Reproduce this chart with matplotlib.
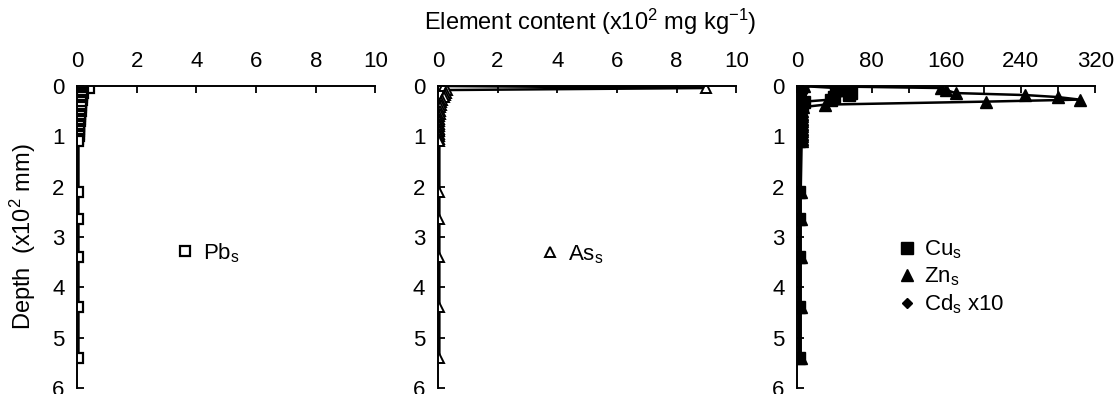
import matplotlib
matplotlib.use("Agg")
import matplotlib.pyplot as plt

plt.rcParams['font.family'] = ['Liberation Sans', 'DejaVu Sans']
plt.rcParams['mathtext.fontset'] = 'custom'
plt.rcParams['mathtext.rm'] = 'Liberation Sans'
plt.rcParams['mathtext.it'] = 'Liberation Sans'
plt.rcParams['font.size'] = 16

# depth (x10^2 mm)
depth = [0.0, 0.04, 0.08, 0.14, 0.18, 0.22, 0.27, 0.31, 0.37, 0.42, 0.5, 0.55,
         0.6, 0.65, 0.7, 0.75, 0.8, 0.85, 0.9, 0.95, 1.0, 1.05, 1.1,
         2.1, 2.65, 3.4, 4.4, 5.4]

# element content (x10^2 mg/kg)
pb = [0.37, 0.40, 0.17, 0.20, 0.18, 0.17, 0.16, 0.15, 0.14, 0.13, 0.12, 0.11,
      0.10, 0.10, 0.09, 0.08, 0.08, 0.07, 0.07, 0.06, 0.06, 0.05, 0.05,
      0.05, 0.05, 0.05, 0.05, 0.05]
as_ = [0.2, 9.0, 0.3, 0.28, 0.25, 0.2, 0.15, 0.12, 0.1, 0.08, 0.06, 0.06,
       0.05, 0.05, 0.05, 0.05, 0.05, 0.05, 0.05, 0.05, 0.05, 0.05, 0.05,
       0.05, 0.05, 0.05, 0.05, 0.05]
cu = [5, 42, 45, 58, 56, 40, 36, 8, 5, 4, 3, 3,
      3, 3, 3, 3, 2, 2, 2, 2, 2, 2, 2,
      2, 2, 2, 2, 2]
zn = [8, 154, 160, 170, 245, 280, 303, 203, 30, 6, 5, 5,
      5, 5, 5, 5, 5, 5, 5, 5, 5, 5, 5,
      4, 4, 4, 4, 4]
cd10 = [8, 6, 5, 5, 4, 4, 4, 4, 3, 3, 3, 3,
        3, 3, 3, 3, 3, 3, 3, 3, 3, 3, 3,
        3, 3, 3, 3, 3]

fig = plt.figure(figsize=(11.17, 3.94), dpi=100)
lefts = [0.0689, 0.392, 0.7135]
axes = [fig.add_axes([l, 0.0152, 0.2672, 0.7665]) for l in lefts]


def style(ax, xmax, major, minor):
    ax.set_xlim(0, xmax)
    ax.set_ylim(6, 0)
    ax.xaxis.tick_top()
    ax.set_xticks(range(0, xmax + 1, major))
    ax.set_xticks(range(0, xmax + 1, minor), minor=True)
    ax.set_yticks(range(0, 7))
    ax.tick_params(axis='x', direction='in', length=5, width=1.3, pad=10)
    ax.tick_params(axis='x', which='minor', direction='in', length=5, width=1.3)
    ax.tick_params(axis='y', direction='in', length=5, width=1.3, pad=9)
    for s in ['right', 'bottom']:
        ax.spines[s].set_visible(False)
    for s in ['top', 'left']:
        ax.spines[s].set_linewidth(1.4)


def legend(ax, x, y, loc='center left'):
    lg = ax.legend(loc=loc, bbox_to_anchor=(x, y), frameon=False,
                   handlelength=0.6, handletextpad=0.5, borderaxespad=0,
                   borderpad=0, labelspacing=0.2)
    for l in lg.get_lines():
        l.set_linestyle('none')


ax = axes[0]
ax.plot(pb, depth, color='black', lw=1.8, marker='s', ms=7, mfc='white',
        mec='black', mew=1.6, label=r'Pb$_\mathregular{s}$')
style(ax, 10, 2, 2)
ax.set_ylabel(r'Depth  (x10$^\mathregular{2}$ mm)', fontsize=17, labelpad=10)
legend(ax, 0.34, 0.447)

ax = axes[1]
ax.plot(as_, depth, color='black', lw=1.8, marker='^', ms=7, mfc='white',
        mec='black', mew=1.4, label=r'As$_\mathregular{s}$')
style(ax, 10, 2, 2)
legend(ax, 0.355, 0.443)

ax = axes[2]
ax.plot(cu, depth, color='black', lw=1.8, marker='s', ms=8, label=r'Cu$_\mathregular{s}$')
ax.plot(zn, depth, color='black', lw=1.8, marker='^', ms=8, label=r'Zn$_\mathregular{s}$')
ax.plot(cd10, depth, color='black', lw=1.8, marker='D', ms=5, label=r'Cd$_\mathregular{s}$ x10')
style(ax, 320, 80, 40)
legend(ax, 0.345, 0.495, loc='upper left')

fig.text(0.528, 0.945, r'Element content (x10$^\mathregular{2}$ mg kg$^\mathregular{-1}$)',
         ha='center', va='center', fontsize=17)

fig.savefig('out.png', dpi=100)
